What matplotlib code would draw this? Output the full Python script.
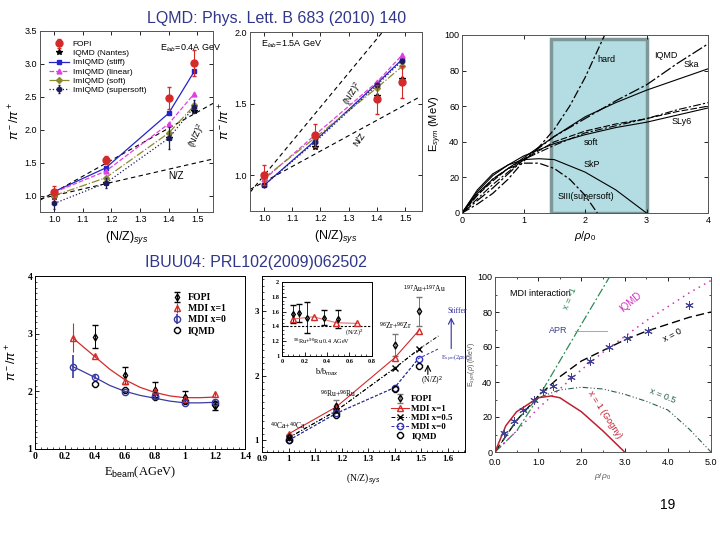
import matplotlib
matplotlib.use("Agg")
import matplotlib.pyplot as plt
import matplotlib.patches as patches
from matplotlib.ticker import AutoMinorLocator, FormatStrFormatter

plt.rcParams['font.family'] = ['Liberation Sans', 'DejaVu Sans']
plt.rcParams['mathtext.fontset'] = 'custom'
plt.rcParams['mathtext.rm'] = 'Liberation Sans'
plt.rcParams['mathtext.it'] = 'Liberation Sans:italic'

# ---- data: LQMD pion ratios vs (N/Z)sys ----
nz_sys = [1.0, 1.18, 1.4, 1.49]
fopi_04 = [1.05, 1.54, 2.48, 3.01]
fopi_04_err = [0.1, 0.06, 0.17, 0.2]
nantes_04 = [0.98, 1.19, 1.87, 2.28]
stiff_04 = [1.06, 1.42, 2.25, 2.89]
linear_04 = [1.05, 1.37, 2.09, 2.55]
soft_04 = [1.0, 1.27, 1.95, 2.37]
supersoft_04 = [0.88, 1.19, 1.87, 2.35]
supersoft_04_err = [0.08, 0.07, 0.17, 0.1]

fopi_15 = [1.0, 1.28, 1.53, 1.65]
fopi_15_err = [0.07, 0.08, 0.1, 0.11]
nantes_15 = [1.0, 1.2, 1.55, 1.67]
stiff_15 = [0.93, 1.24, 1.64, 1.81]
linear_15 = [0.97, 1.28, 1.65, 1.84]
soft_15 = [0.98, 1.26, 1.61, 1.76]
supersoft_15 = [0.93, 1.23, 1.63, 1.80]

nz_line_x = [0.95, 1.555]
nz_line_04 = [0.95, 1.555]
nz2_line_04 = [0.93, 2.40]
nz_line_15 = [0.90, 1.55]
nz2_x_15 = [0.95, 1.42]
nz2_line_15 = [0.88, 2.0]

# ---- data: symmetry energy curves (top right) ----
rho_a = [0, 0.25, 0.5, 0.75, 1, 1.5, 2, 2.5, 3, 3.5, 4]
esym_ska = [0, 11, 19, 25, 31, 43, 54, 62, 69, 75, 81]
esym_sly6 = [0, 12, 21, 27, 32, 39, 44, 48, 51, 55, 59]
esym_iqmd = [0, 7, 14, 22, 30, 43, 53, 63, 72, 84, 95]
esym_soft = [0, 8, 16, 23, 30, 38, 45, 49, 53, 58, 62]
esym_dash = [0, 10, 18, 25, 30, 40, 46, 50, 53, 57, 60]
rho_hard = [0, 0.25, 0.5, 0.75, 1, 1.25, 1.5, 1.75, 2, 2.32]
esym_hard = [0, 5, 11, 19, 29, 37, 47, 60, 76, 100]
rho_skp = [0, 0.25, 0.5, 0.75, 1, 1.25, 1.5, 2, 2.5, 3]
esym_skp = [0, 13, 22, 27, 30, 30.5, 30, 23, 13, 0]
rho_s3 = [0, 0.25, 0.5, 0.75, 1, 1.25, 1.5, 1.75, 2, 2.2]
esym_s3 = [0, 10, 19, 25, 28, 28, 25, 19, 10, 0]

# ---- data: IBUU04 pion ratio vs beam energy ----
ebeam = [0.25, 0.4, 0.6, 0.8, 1.0, 1.2]
mdi1_e = [2.93, 2.62, 2.18, 2.0, 1.87, 1.95]
mdi1_e_err = [0.25, 0.03, 0.03, 0.03, 0.03, 0.03]
mdi0_e = [2.43, 2.25, 1.98, 1.92, 1.8, 1.82]
mdi0_e_err = [0.2, 0.03, 0.03, 0.03, 0.03, 0.03]
ebeam_exp = [0.4, 0.6, 0.8, 1.0, 1.2]
fopi_e = [2.95, 2.28, 2.03, 1.9, 1.75]
fopi_e_err = [0.2, 0.15, 0.13, 0.1, 0.07]
iqmd_e = [2.13, 2.03, 1.9, 1.83, 1.78]
fit_e = [0.25, 0.3, 0.4, 0.5, 0.6, 0.7, 0.8, 0.9, 1.0, 1.1, 1.2]
fit_mdi1 = [2.93, 2.82, 2.60, 2.38, 2.20, 2.07, 1.98, 1.92, 1.89, 1.89, 1.90]
fit_mdi0 = [2.43, 2.37, 2.24, 2.10, 2.00, 1.93, 1.88, 1.83, 1.80, 1.80, 1.81]

# ---- data: IBUU04 pion ratio vs (N/Z)sys ----
fopi_nz = [1.05, 1.54, 2.48, 3.0]
fopi_nz_err = [0.05, 0.08, 0.17, 0.23]
mdi1_nz = [1.1, 1.52, 2.28, 2.7]
mdi05_nz = [1.04, 1.46, 2.12, 2.41]
mdi0_nz = [1.0, 1.42, 1.82, 2.27]
iqmd_nz = [1.0, 1.40, 1.80, 2.16]
ext_x = [1.565]
ext_05 = [2.62]
ext_0 = [2.42]

inset_b = [0.1, 0.15, 0.22, 0.37, 0.5]
inset_fopi = [1.57, 1.58, 1.52, 1.52, 1.5]
inset_fopi_err = [0.12, 0.12, 0.21, 0.1, 0.12]
inset_bm = [0.1, 0.28, 0.48, 0.67]
inset_mdi = [1.5, 1.53, 1.45, 1.44]

# ---- data: MDI symmetry energy (bottom right) ----
rho_g = [0, 0.5, 1.0, 1.5, 2.0, 2.65]
esym_xm1 = [0, 12, 31, 52, 73, 100]
rho_b = [0, 0.5, 1.0, 1.5, 2.0, 2.5, 3.0, 3.5, 4.0, 4.5, 5.0]
esym_x0 = [0, 18, 32, 43, 52, 58, 64, 69, 73, 77, 80]
esym_iq = [0, 12, 25, 36, 47, 57, 66, 75, 83, 91, 98]
esym_x05 = [0, 18, 31, 35.5, 37, 36, 33, 29, 24, 13, 0]
rho_x1 = [0, 0.25, 0.5, 1.0, 1.3, 1.5, 2.0, 2.5, 3.0]
esym_x1 = [0, 15, 23, 31, 32, 31, 23, 12, 0]
rho_apr = [0.2, 0.45, 0.65, 0.9, 1.1, 1.35, 1.75, 2.2, 2.65, 3.05, 3.55, 4.5]
esym_apr = [11, 18, 24, 30, 35, 38, 43, 52, 60, 65, 69, 84]

fig = plt.figure(figsize=(7.2, 5.4), dpi=100)
W, H = 720.0, 540.0


def box(x0, y0, x1, y1):
    return fig.add_axes([x0 / W, 1 - y1 / H, (x1 - x0) / W, (y1 - y0) / H])


def ticks_in(ax, size=6.5, allsides=True):
    ax.tick_params(direction='in', labelsize=size, length=3, width=0.6,
                   top=allsides, right=allsides, pad=2)
    ax.tick_params(which='minor', direction='in', length=1.6, width=0.5,
                   top=allsides, right=allsides)
    for s in ax.spines.values():
        s.set_linewidth(0.7)
        s.set_color('#555555')


def ordered_legend(ax, order, **kw):
    h, l = ax.get_legend_handles_labels()
    d = dict(zip(l, h))
    return ax.legend([d[k] for k in order], order, **kw)


red = '#d42a2a'
blue = '#2424c8'
mag = '#e040e0'
olive = '#8c8a30'
navy = '#1c1c5c'
serif = ['Liberation Serif', 'DejaVu Serif']

# ================= top left =================
ax = box(40, 31, 213, 212)
ax.plot(nz_line_x, nz_line_04, ls=(0, (4, 3)), color='k', lw=0.8)
ax.plot(nz_line_x, nz2_line_04, ls=(0, (4, 3)), color='k', lw=0.8)
ax.errorbar(nz_sys, fopi_04, yerr=fopi_04_err, fmt='o', color=red, ms=5,
            capsize=1.5, lw=0.8, label='FOPI', zorder=5)
ax.plot(nz_sys, nantes_04, '*', color='k', ms=4, label='IQMD (Nantes)')
ax.plot(nz_sys, stiff_04, '-s', color=blue, ms=3.5, lw=0.9, label='ImIQMD (stiff)')
ax.plot(nz_sys, linear_04, '--^', color=mag, ms=3.5, lw=0.9, label='ImIQMD (linear)')
ax.plot(nz_sys, soft_04, '-.D', color=olive, ms=3, lw=0.9, label='ImIQMD (soft)')
ax.errorbar(nz_sys, supersoft_04, yerr=supersoft_04_err, fmt=':h', color=navy,
            ms=3.5, lw=0.9, capsize=1, label='ImIQMD (supersoft)')
ax.text(1.37, 3.2, 'E$_{lab}$=0.4A GeV', fontsize=6.5)
ax.text(1.40, 1.25, 'N/Z', fontsize=7)
ax.text(1.46, 1.75, '(N/Z)$^2$', fontsize=6.5, rotation=65)
ax.set_xlim(0.95, 1.555)
ax.set_ylim(0.75, 3.5)
ax.set_xticks([1.0, 1.1, 1.2, 1.3, 1.4, 1.5])
ax.set_yticks([1.0, 1.5, 2.0, 2.5, 3.0, 3.5])
ax.xaxis.set_major_formatter(FormatStrFormatter('%.1f'))
ax.yaxis.set_major_formatter(FormatStrFormatter('%.1f'))
ticks_in(ax)
ax.set_ylabel(r'$\pi^-/\pi^+$', fontsize=9, labelpad=2)
ax.set_xlabel('(N/Z)$_{sys}$', fontsize=9, labelpad=4)
ordered_legend(ax, ['FOPI', 'IQMD (Nantes)', 'ImIQMD (stiff)', 'ImIQMD (linear)',
                    'ImIQMD (soft)', 'ImIQMD (supersoft)'],
               loc='upper left', bbox_to_anchor=(0.02, 0.98), fontsize=6,
               frameon=False, handlelength=2.4, labelspacing=0.15, borderpad=0.2,
               handletextpad=0.4)

# ================= top middle =================
ax = box(250, 32, 422, 211)
ax.plot(nz_line_x, nz_line_15, ls=(0, (4, 3)), color='k', lw=0.8)
ax.plot(nz2_x_15, nz2_line_15, ls=(0, (4, 3)), color='k', lw=0.8)
ax.plot(nz_sys, nantes_15, '*', color='k', ms=4)
ax.plot(nz_sys, stiff_15, '-s', color=blue, ms=3.5, lw=0.9)
ax.plot(nz_sys, linear_15, '--^', color=mag, ms=3.5, lw=0.9)
ax.plot(nz_sys, soft_15, '-.D', color=olive, ms=3, lw=0.9)
ax.plot(nz_sys, supersoft_15, ':h', color=navy, ms=3.5, lw=0.9)
ax.errorbar(nz_sys, fopi_15, yerr=fopi_15_err, fmt='o', color=red, ms=5,
            capsize=1.5, lw=0.8, zorder=5)
ax.text(0.99, 1.9, 'E$_{lab}$=1.5A GeV', fontsize=6.5)
ax.text(1.27, 1.5, '(N/Z)$^2$', fontsize=6.5, rotation=58)
ax.text(1.31, 1.2, 'N/Z', fontsize=6.5, rotation=55)
ax.set_xlim(0.95, 1.56)
ax.set_ylim(0.75, 2.0)
ax.set_xticks([1.0, 1.1, 1.2, 1.3, 1.4, 1.5])
ax.set_yticks([1.0, 1.5, 2.0])
ax.xaxis.set_major_formatter(FormatStrFormatter('%.1f'))
ax.yaxis.set_major_formatter(FormatStrFormatter('%.1f'))
ticks_in(ax)
ax.set_ylabel(r'$\pi^-/\pi^+$', fontsize=9, labelpad=2)
ax.set_xlabel('(N/Z)$_{sys}$', fontsize=9, labelpad=4)

# ================= top right =================
ax = box(462, 35, 708, 213)
ax.add_patch(patches.Rectangle((1.44, 0), 1.56, 97.5, facecolor='#b3dde2',
                               edgecolor='#7e9898', lw=2.5, zorder=0))
dd = (0, (7, 2, 2, 2))
ax.plot(rho_a, esym_ska, '-', color='k', lw=0.8)
ax.plot(rho_a, esym_sly6, '-', color='k', lw=0.8)
ax.plot(rho_a, esym_iqmd, ls=(0, (9, 2, 2, 2)), color='k', lw=0.9)
ax.plot(rho_a, esym_soft, ls=dd, color='k', lw=0.8)
ax.plot(rho_a, esym_dash, ls=(0, (6, 2)), color='k', lw=0.8)
ax.plot(rho_hard, esym_hard, ls=dd, color='k', lw=0.9)
ax.plot(rho_skp, esym_skp, '-', color='k', lw=0.8)
ax.plot(rho_s3, esym_s3, ls=dd, color='k', lw=0.9)
ax.text(2.2, 85, 'hard', fontsize=6.5)
ax.text(3.12, 87, 'IQMD', fontsize=6.5)
ax.text(3.6, 82, 'Ska', fontsize=6.5)
ax.text(3.4, 50, 'SLy6', fontsize=6.5)
ax.text(1.98, 38, 'soft', fontsize=6.5)
ax.text(1.98, 26, 'SkP', fontsize=6.5)
ax.text(1.55, 8, 'SIII(supersoft)', fontsize=6.5)
ax.set_xlim(0, 4)
ax.set_ylim(0, 100)
ax.set_xticks([0, 1, 2, 3, 4])
ax.set_yticks([0, 20, 40, 60, 80, 100])
ticks_in(ax)
ax.set_ylabel('E$_{sym}$ (MeV)', fontsize=8, labelpad=0)
ax.set_xlabel(r'$\rho/\rho_0$', fontsize=8, labelpad=3)

# ================= bottom left =================
ax = box(35, 276, 245, 449)
ax.plot(fit_e, fit_mdi1, '-', color=red, lw=0.9)
ax.plot(fit_e, fit_mdi0, '-', color='#3a3aa0', lw=0.9)
ax.errorbar(ebeam_exp, fopi_e, yerr=fopi_e_err, fmt='d', mfc='none', mec='k',
            ecolor='k', ms=3.5, capsize=2, lw=0.7, label='FOPI')
ax.errorbar(ebeam, mdi1_e, yerr=mdi1_e_err, fmt='^', mfc='none', mec=red,
            ecolor=red, ms=4.5, lw=0.8, label='MDI x=1')
ax.errorbar(ebeam, mdi0_e, yerr=mdi0_e_err, fmt='o', mfc='none', mec='#3a3aa0',
            ecolor='#3a3aa0', ms=4.5, lw=1.2, label='MDI x=0')
ax.plot(ebeam_exp, iqmd_e, '8', mfc='none', mec='k', ms=4, label='IQMD')
ax.set_xlim(0, 1.4)
ax.set_ylim(1, 4)
ax.set_xticks([0, 0.2, 0.4, 0.6, 0.8, 1.0, 1.2, 1.4])
ax.set_xticklabels(['0', '0.2', '0.4', '0.6', '0.8', '1', '1.2', '1.4'])
ax.set_yticks([1, 2, 3, 4])
ax.xaxis.set_minor_locator(AutoMinorLocator(5))
ax.yaxis.set_minor_locator(AutoMinorLocator(10))
ticks_in(ax, size=7, allsides=False)
for s in ax.spines.values():
    s.set_color('k')
for t in ax.get_xticklabels() + ax.get_yticklabels():
    t.set_family(serif)
    t.set_weight('bold')
ax.set_ylabel(r'$\pi^-/\pi^+$', fontsize=9, labelpad=6)
ax.set_xlabel('E$_{\\rm beam}$(AGeV)', fontsize=9, family=serif, labelpad=3)
ordered_legend(ax, ['FOPI', 'MDI x=1', 'MDI x=0', 'IQMD'],
               loc='upper right', bbox_to_anchor=(0.95, 0.95),
               frameon=False, prop={'family': serif, 'size': 7, 'weight': 'bold'},
               handlelength=1.0, labelspacing=0.2, handletextpad=0.6)

# ================= bottom middle =================
ax = box(262, 276, 465, 452)
ax.plot(nz_sys + ext_x, mdi05_nz + ext_05, ls=(0, (4, 2, 1, 2)), color='k', lw=0.7)
ax.plot(nz_sys + ext_x, mdi0_nz + ext_0, ls=(0, (3, 2)), color='#3030a0', lw=0.7)
ax.errorbar(nz_sys, fopi_nz, yerr=fopi_nz_err, fmt='d', mfc='none', mec='k',
            ecolor='#777777', ms=3.5, capsize=2.5, lw=0.7, label='FOPI')
ax.plot(nz_sys, mdi1_nz, '^', mfc='none', mec=red, ms=5, label='MDI x=1',
        ls='-', color=red, lw=0.8)
ax.plot(nz_sys, mdi05_nz, 'x', color='k', ms=4, ls=(0, (4, 2, 1, 2)), lw=0.7,
        label='MDI x=0.5')
ax.plot(nz_sys, mdi0_nz, 'o', mfc='none', mec='#3030c0', ms=4.5,
        ls=(0, (3, 2)), color='#3030a0', lw=0.7, label='MDI x=0')
ax.plot(nz_sys, iqmd_nz, '8', mfc='none', mec='k', ms=4, ls='none', label='IQMD')
ax.annotate('', xy=(1.613, 2.95), xytext=(1.613, 2.38),
            arrowprops=dict(arrowstyle='->', color='#3030a0', lw=0.8))
ax.annotate('', xy=(1.525, 2.22), xytext=(1.525, 1.98),
            arrowprops=dict(arrowstyle='->', color='k', lw=0.8))
fs = dict(fontsize=5.5, family=serif)
ax.text(1.6, 2.98, 'Stiffer', color='#3030a0', **fs)
ax.text(1.575, 2.26, 'E$_{sym}$(2$\\rho_0$)', color='#3030a0', fontsize=4.5, family=serif)
ax.text(1.5, 1.9, '(N/Z)$^2$', **fs)
ax.text(0.93, 1.17, '$^{40}$Ca+$^{40}$Ca', **fs)
ax.text(1.12, 1.66, '$^{96}$Ru+$^{96}$Ru', **fs)
ax.text(1.34, 2.72, '$^{96}$Zr+$^{96}$Zr', **fs)
ax.text(1.43, 3.3, '$^{197}$Au+$^{197}$Au', **fs)
ax.set_xlim(0.9, 1.665)
ax.set_ylim(0.82, 3.55)
ax.set_xticks([0.9, 1.0, 1.1, 1.2, 1.3, 1.4, 1.5, 1.6])
ax.set_xticklabels(['0.9', '1', '1.1', '1.2', '1.3', '1.4', '1.5', '1.6'])
ax.set_yticks([1, 2, 3])
ax.xaxis.set_minor_locator(AutoMinorLocator(5))
ax.yaxis.set_minor_locator(AutoMinorLocator(10))
ticks_in(ax, size=6.5, allsides=False)
for s in ax.spines.values():
    s.set_color('k')
for t in ax.get_xticklabels() + ax.get_yticklabels():
    t.set_family(serif)
    t.set_weight('bold')
ax.set_xlabel('(N/Z)$_{sys}$', fontsize=7, family=serif, labelpad=6)
ordered_legend(ax, ['FOPI', 'MDI x=1', 'MDI x=0.5', 'MDI x=0', 'IQMD'],
               loc='lower right', bbox_to_anchor=(0.98, 0.02),
               prop={'family': serif, 'size': 6.5, 'weight': 'bold'},
               frameon=False, handlelength=2.0, labelspacing=0.1, handletextpad=0.3)

# inset
ai = box(282, 282, 372, 356)
ai.axhline(1.41, color='k', ls=(0, (2, 1.5)), lw=0.8)
ai.errorbar(inset_b, inset_fopi, yerr=inset_fopi_err, fmt='d', mfc='none',
            mec='k', ecolor='k', ms=3, capsize=2, lw=0.6)
ai.plot(inset_bm, inset_mdi, '^-', mfc='none', mec=red, color='#e07070',
        ms=4, lw=0.8)
ai.text(0.56, 1.3, '(N/Z)$^2$', fontsize=4.5, family=serif)
ai.text(0.1, 1.16, '$^{96}$Ru+$^{96}$Ru 0.4 AGeV', fontsize=4.5, family=serif)
ai.set_xlim(0, 0.8)
ai.set_ylim(1, 2)
ai.set_xticks([0, 0.2, 0.4, 0.6, 0.8])
ai.set_xticklabels(['0', '0.2', '0.4', '0.6', '0.8'])
ai.set_yticks([1, 1.2, 1.4, 1.6, 1.8, 2])
ai.set_yticklabels(['1', '1.2', '1.4', '1.6', '1.8', '2'])
ai.xaxis.set_minor_locator(AutoMinorLocator(4))
ai.yaxis.set_minor_locator(AutoMinorLocator(4))
ticks_in(ai, size=4.5, allsides=False)
for s in ai.spines.values():
    s.set_color('k')
for t in ai.get_xticklabels() + ai.get_yticklabels():
    t.set_family(serif)
    t.set_weight('bold')
ai.set_xlabel('b/b$_{max}$', fontsize=6, family=serif, labelpad=2)

# ================= bottom right =================
ax = box(495, 277, 711, 452)
ax.plot(rho_g, esym_xm1, ls=(0, (7, 2, 1.5, 2)), color='#2e8b57', lw=0.9)
ax.plot(rho_b, esym_x0, ls=(0, (6, 3)), color='k', lw=1.0)
ax.plot(rho_b, esym_iq, ls=(0, (1, 3)), color='#d030c0', lw=1.1)
ax.plot(rho_b, esym_x05, ls=(0, (5, 2, 1, 2, 1, 2)), color='#2f5f4f', lw=0.8)
ax.plot(rho_x1, esym_x1, '-', color='#c02030', lw=1.1)
ax.plot(rho_apr, esym_apr, ls='none', marker=(6, 2, 0), color='#404090', ms=6, mew=0.7)
ax.plot([1.85, 2.6], [69, 69], color='#999999', lw=0.6)
ax.text(0.35, 89, 'MDI interaction', fontsize=6.5)
ax.text(1.55, 82, 'x = -1', fontsize=6.5, color='#2e8b57', rotation=68)
ax.text(2.85, 80, 'IQMD', fontsize=7, color='#d030c0', rotation=40)
ax.text(1.25, 68, 'APR', fontsize=6.5, color='#404090')
ax.text(3.85, 63, 'x = 0', fontsize=6.5, color='k', rotation=28)
ax.text(3.55, 28, 'x = 0.5', fontsize=6.5, color='#2f5f4f', rotation=-22)
ax.text(2.1, 8, 'x = 1 (Gogny)', fontsize=6.5, color='#c02030', rotation=-57)
ax.set_xlim(0, 5)
ax.set_ylim(0, 100)
ax.set_xticks([0, 1, 2, 3, 4, 5])
ax.set_yticks([0, 20, 40, 60, 80, 100])
ax.xaxis.set_major_formatter(FormatStrFormatter('%.1f'))
ax.xaxis.set_minor_locator(AutoMinorLocator(2))
ax.yaxis.set_minor_locator(AutoMinorLocator(2))
ticks_in(ax, size=6.5)
ax.tick_params(axis='x', pad=4)
ax.set_ylabel(r'E$_{sym}$($\rho$) (MeV)', fontsize=5, color='#555555', labelpad=0)
ax.set_xlabel(r'$\rho/\rho_0$', fontsize=6, color='#555555', labelpad=3)

# ================= slide texts =================
title_c = '#30378a'
fig.text(277 / W, 1 - 19 / H, 'LQMD: Phys. Lett. B 683 (2010) 140', ha='center',
         va='center', fontsize=11.5, color=title_c)
fig.text(145 / W, 1 - 263 / H, 'IBUU04: PRL102(2009)062502', ha='left',
         va='center', fontsize=11.5, color=title_c)
fig.text(668 / W, 1 - 505 / H, '19', ha='center', va='center', fontsize=10)

fig.savefig('out.png', dpi=100)
